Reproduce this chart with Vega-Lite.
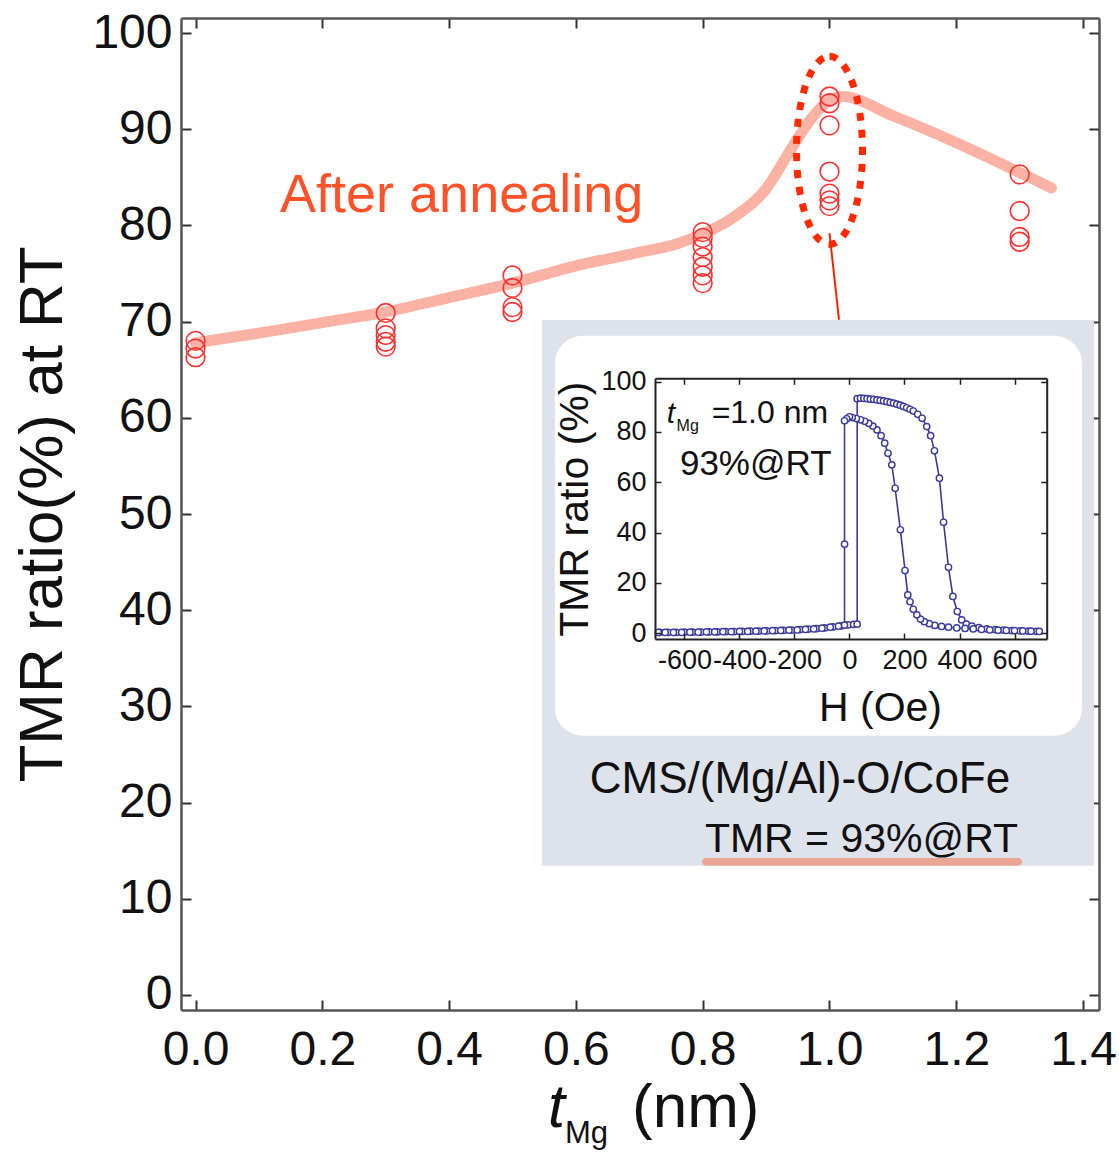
{
  "$schema": "https://vega.github.io/schema/vega-lite/v6.json",
  "width": 918,
  "height": 992,
  "autosize": {"type": "none"},
  "padding": {"left": 181, "top": 18, "right": 20, "bottom": 142},
  "background": "white",
  "config": {
    "font": "Liberation Sans",
    "view": {"stroke": null},
    "axis": {"grid": false, "labelFont": "Liberation Sans", "titleFont": "Liberation Sans", "titleFontWeight": "normal"}
  },
  "resolve": {"scale": {"x": "independent", "y": "independent"}, "axis": {"x": "independent", "y": "independent"}},
  "layer": [
    {
      "resolve": {"axis": {"x": "independent", "y": "independent"}},
      "layer": [
        {
          "data": {"values": [
            {"x": 0, "y": 67.8}, {"x": 0.1, "y": 68.8}, {"x": 0.2, "y": 69.9}, {"x": 0.3, "y": 71.0},
            {"x": 0.4, "y": 72.5}, {"x": 0.5, "y": 74.0}, {"x": 0.6, "y": 75.8}, {"x": 0.7, "y": 77.2},
            {"x": 0.76, "y": 78.1}, {"x": 0.8, "y": 79.1}, {"x": 0.85, "y": 80.9}, {"x": 0.9, "y": 83.8},
            {"x": 0.94, "y": 88.0}, {"x": 0.97, "y": 91.0}, {"x": 1.0, "y": 93.0}, {"x": 1.02, "y": 93.4},
            {"x": 1.1, "y": 91.4}, {"x": 1.2, "y": 88.6}, {"x": 1.3, "y": 85.5}, {"x": 1.35, "y": 83.9}
          ]},
          "mark": {"type": "line", "interpolate": "monotone", "color": "#f9b2a3", "strokeWidth": 11, "strokeCap": "round"},
          "encoding": {
            "x": {"field": "x", "type": "quantitative", "scale": {"domain": [-0.0229, 1.4251], "nice": false, "zero": false},
              "axis": {"orient": "bottom", "values": [0, 0.2, 0.4, 0.6, 0.8, 1.0, 1.2, 1.4], "format": ".1f", "title": null,
                "tickSize": -10, "tickWidth": 2, "tickColor": "#333", "domainColor": "#555", "domainWidth": 2.5,
                "labelFontSize": 48, "labelColor": "#111", "labelPadding": 26, "labelFlush": false, "labelOverlap": false, "labelBound": false}},
            "y": {"field": "y", "type": "quantitative", "scale": {"domain": [-1.56, 101.56], "nice": false, "zero": false},
              "axis": {"orient": "left", "values": [0, 10, 20, 30, 40, 50, 60, 70, 80, 90, 100], "title": "TMR ratio(%) at RT",
                "titleFontSize": 62, "titleColor": "#111", "titlePadding": 17,
                "tickSize": -10, "tickWidth": 2, "tickColor": "#333", "domainColor": "#555", "domainWidth": 2.5,
                "labelFontSize": 48, "labelColor": "#111", "labelPadding": 19, "labelFlush": false, "labelOverlap": false, "labelBound": false}}
          }
        },
        {
          "data": {"values": [
            {"x": 0, "y": 68.0}, {"x": 0, "y": 67.2}, {"x": 0, "y": 66.3},
            {"x": 0.3, "y": 70.9}, {"x": 0.3, "y": 69.3}, {"x": 0.3, "y": 68.6}, {"x": 0.3, "y": 67.9}, {"x": 0.3, "y": 67.4},
            {"x": 0.5, "y": 74.8}, {"x": 0.5, "y": 73.5}, {"x": 0.5, "y": 71.5}, {"x": 0.5, "y": 71.0},
            {"x": 0.8, "y": 79.3}, {"x": 0.8, "y": 78.7}, {"x": 0.8, "y": 77.8}, {"x": 0.8, "y": 76.7}, {"x": 0.8, "y": 75.7}, {"x": 0.8, "y": 74.8}, {"x": 0.8, "y": 74.0},
            {"x": 1.0, "y": 93.4}, {"x": 1.0, "y": 92.7}, {"x": 1.0, "y": 90.4}, {"x": 1.0, "y": 85.6}, {"x": 1.0, "y": 83.3}, {"x": 1.0, "y": 82.6}, {"x": 1.0, "y": 82.0},
            {"x": 1.3, "y": 85.3}, {"x": 1.3, "y": 81.5}, {"x": 1.3, "y": 78.8}, {"x": 1.3, "y": 78.3}
          ]},
          "mark": {"type": "point", "shape": "circle", "filled": false, "color": "#ff3030", "strokeWidth": 1.6, "size": 350, "opacity": 1},
          "encoding": {
            "x": {"field": "x", "type": "quantitative", "scale": {"domain": [-0.0229, 1.4251], "nice": false, "zero": false},
              "axis": {"orient": "top", "values": [0, 0.2, 0.4, 0.6, 0.8, 1.0, 1.2, 1.4], "labels": false, "title": null,
                "tickSize": -10, "tickWidth": 2, "tickColor": "#333", "domainColor": "#555", "domainWidth": 2.5}},
            "y": {"field": "y", "type": "quantitative", "scale": {"domain": [-1.56, 101.56], "nice": false, "zero": false},
              "axis": {"orient": "right", "values": [0, 10, 20, 30, 40, 50, 60, 70, 80, 90, 100], "labels": false, "title": null,
                "tickSize": -10, "tickWidth": 2, "tickColor": "#333", "domainColor": "#555", "domainWidth": 2.5}}
          }
        },
        {
          "data": {"values": [{"x": 1.0, "y": 87.8}]},
          "mark": {"type": "point", "shape": "M0,-1A0.351,1 0 1,1 0,1A0.351,1 0 1,1 0,-1Z", "filled": false, "color": "#ff2a00", "strokeWidth": 7, "strokeDash": [8, 9], "size": 35344, "opacity": 1},
          "encoding": {
            "x": {"field": "x", "type": "quantitative", "scale": {"domain": [-0.0229, 1.4251], "nice": false, "zero": false}, "axis": null},
            "y": {"field": "y", "type": "quantitative", "scale": {"domain": [-1.56, 101.56], "nice": false, "zero": false}, "axis": null}
          }
        },
        {
          "data": {"values": [{"x": 1.0, "y": 79.2, "x2": 1.015, "y2": 70.2}]},
          "mark": {"type": "rule", "color": "#ff2200", "strokeWidth": 2},
          "encoding": {
            "x": {"field": "x", "type": "quantitative", "scale": {"domain": [-0.0229, 1.4251], "nice": false, "zero": false}, "axis": null},
            "y": {"field": "y", "type": "quantitative", "scale": {"domain": [-1.56, 101.56], "nice": false, "zero": false}, "axis": null},
            "x2": {"field": "x2"},
            "y2": {"field": "y2"}
          }
        },
        {
          "data": {"values": [
            {"label": "After annealing", "x": 0.1333, "y": 81.4}
          ]},
          "mark": {"type": "text", "align": "left", "baseline": "alphabetic", "fontSize": 54, "color": "#ff5228", "font": "Liberation Sans"},
          "encoding": {
            "x": {"field": "x", "type": "quantitative", "scale": {"domain": [-0.0229, 1.4251], "nice": false, "zero": false}, "axis": null},
            "y": {"field": "y", "type": "quantitative", "scale": {"domain": [-1.56, 101.56], "nice": false, "zero": false}, "axis": null},
            "text": {"field": "label"}
          }
        },
        {
          "data": {"values": [
            {"label": "t", "x": 0.556, "y": -13.7}
          ]},
          "mark": {"type": "text", "align": "left", "baseline": "alphabetic", "fontSize": 61, "fontStyle": "italic", "color": "#111", "font": "Liberation Sans"},
          "encoding": {
            "x": {"field": "x", "type": "quantitative", "scale": {"domain": [-0.0229, 1.4251], "nice": false, "zero": false}, "axis": null},
            "y": {"field": "y", "type": "quantitative", "scale": {"domain": [-1.56, 101.56], "nice": false, "zero": false}, "axis": null},
            "text": {"field": "label"}
          }
        },
        {
          "data": {"values": [
            {"label": "Mg", "x": 0.5828, "y": -15.4}
          ]},
          "mark": {"type": "text", "align": "left", "baseline": "alphabetic", "fontSize": 31, "color": "#111", "font": "Liberation Sans"},
          "encoding": {
            "x": {"field": "x", "type": "quantitative", "scale": {"domain": [-0.0229, 1.4251], "nice": false, "zero": false}, "axis": null},
            "y": {"field": "y", "type": "quantitative", "scale": {"domain": [-1.56, 101.56], "nice": false, "zero": false}, "axis": null},
            "text": {"field": "label"}
          }
        },
        {
          "data": {"values": [
            {"label": "(nm)", "x": 0.6885, "y": -13.7}
          ]},
          "mark": {"type": "text", "align": "left", "baseline": "alphabetic", "fontSize": 62, "color": "#111", "font": "Liberation Sans"},
          "encoding": {
            "x": {"field": "x", "type": "quantitative", "scale": {"domain": [-0.0229, 1.4251], "nice": false, "zero": false}, "axis": null},
            "y": {"field": "y", "type": "quantitative", "scale": {"domain": [-1.56, 101.56], "nice": false, "zero": false}, "axis": null},
            "text": {"field": "label"}
          }
        }
      ]
    },
    {
      "resolve": {"axis": {"x": "independent", "y": "independent"}},
      "layer": [
        {
          "data": {"values": [{"x": -1118.2, "x2": 889.1, "y": 124.5, "y2": -92.4}]},
          "mark": {"type": "rect", "color": "#dee2eb"},
          "encoding": {
            "x": {"field": "x", "type": "quantitative", "scale": {"domain": [-707, 717], "range": [474, 865.7], "nice": false, "zero": false}, "axis": null},
            "x2": {"field": "x2"},
            "y": {"field": "y", "type": "quantitative", "scale": {"domain": [-2.3, 101.3], "range": [621, 360.3], "nice": false, "zero": false}, "axis": null},
            "y2": {"field": "y2"}
          }
        },
        {
          "data": {"values": [{"x": -1070.9, "x2": 845.5, "y": 118.2, "y2": -40.7}]},
          "mark": {"type": "rect", "color": "white", "cornerRadius": 28},
          "encoding": {
            "x": {"field": "x", "type": "quantitative", "scale": {"domain": [-707, 717], "range": [474, 865.7], "nice": false, "zero": false}, "axis": null},
            "x2": {"field": "x2"},
            "y": {"field": "y", "type": "quantitative", "scale": {"domain": [-2.3, 101.3], "range": [621, 360.3], "nice": false, "zero": false}, "axis": null},
            "y2": {"field": "y2"}
          }
        },
        {
          "data": {"values": [{"x": -536.4, "x2": 627.3, "y": -89.3, "y2": -92.4}]},
          "mark": {"type": "rect", "color": "#eba596", "cornerRadius": 4},
          "encoding": {
            "x": {"field": "x", "type": "quantitative", "scale": {"domain": [-707, 717], "range": [474, 865.7], "nice": false, "zero": false}, "axis": null},
            "x2": {"field": "x2"},
            "y": {"field": "y", "type": "quantitative", "scale": {"domain": [-2.3, 101.3], "range": [621, 360.3], "nice": false, "zero": false}, "axis": null},
            "y2": {"field": "y2"}
          }
        },
        {
          "data": {"name": "loop", "values": [
            {"b": "u", "i": 0, "H": -690, "T": 0.3}, {"b": "u", "i": 1, "H": -660, "T": 0.3}, {"b": "u", "i": 2, "H": -630, "T": 0.3},
            {"b": "u", "i": 3, "H": -600, "T": 0.4}, {"b": "u", "i": 4, "H": -570, "T": 0.4}, {"b": "u", "i": 5, "H": -540, "T": 0.4},
            {"b": "u", "i": 6, "H": -510, "T": 0.5}, {"b": "u", "i": 7, "H": -480, "T": 0.5}, {"b": "u", "i": 8, "H": -450, "T": 0.6},
            {"b": "u", "i": 9, "H": -420, "T": 0.6}, {"b": "u", "i": 10, "H": -390, "T": 0.7}, {"b": "u", "i": 11, "H": -360, "T": 0.8},
            {"b": "u", "i": 12, "H": -330, "T": 0.8}, {"b": "u", "i": 13, "H": -300, "T": 0.9}, {"b": "u", "i": 14, "H": -270, "T": 1.0},
            {"b": "u", "i": 15, "H": -240, "T": 1.1}, {"b": "u", "i": 16, "H": -210, "T": 1.2}, {"b": "u", "i": 17, "H": -180, "T": 1.4},
            {"b": "u", "i": 18, "H": -150, "T": 1.6}, {"b": "u", "i": 19, "H": -120, "T": 1.8}, {"b": "u", "i": 20, "H": -90, "T": 2.1},
            {"b": "u", "i": 21, "H": -60, "T": 2.5}, {"b": "u", "i": 22, "H": -30, "T": 2.9}, {"b": "u", "i": 23, "H": -5, "T": 3.3},
            {"b": "u", "i": 24, "H": 15, "T": 3.5}, {"b": "u", "i": 25, "H": 28, "T": 3.6}, {"b": "u", "i": 26, "H": 28, "T": 93.2},
            {"b": "u", "i": 27, "H": 40, "T": 93.4}, {"b": "u", "i": 28, "H": 52, "T": 93.3}, {"b": "u", "i": 29, "H": 64, "T": 93.2},
            {"b": "u", "i": 30, "H": 76, "T": 93.0}, {"b": "u", "i": 31, "H": 88, "T": 92.9}, {"b": "u", "i": 32, "H": 100, "T": 92.7},
            {"b": "u", "i": 33, "H": 112, "T": 92.5}, {"b": "u", "i": 34, "H": 124, "T": 92.3}, {"b": "u", "i": 35, "H": 136, "T": 92.0},
            {"b": "u", "i": 36, "H": 148, "T": 91.7}, {"b": "u", "i": 37, "H": 160, "T": 91.4}, {"b": "u", "i": 38, "H": 172, "T": 91.0},
            {"b": "u", "i": 39, "H": 184, "T": 90.6}, {"b": "u", "i": 40, "H": 196, "T": 90.1}, {"b": "u", "i": 41, "H": 208, "T": 89.6},
            {"b": "u", "i": 42, "H": 220, "T": 89.0}, {"b": "u", "i": 43, "H": 232, "T": 88.3}, {"b": "u", "i": 44, "H": 248, "T": 87.0},
            {"b": "u", "i": 45, "H": 264, "T": 85.4}, {"b": "u", "i": 46, "H": 281, "T": 82.1}, {"b": "u", "i": 47, "H": 295, "T": 78.5},
            {"b": "u", "i": 48, "H": 309, "T": 72.5}, {"b": "u", "i": 49, "H": 327, "T": 61.6}, {"b": "u", "i": 50, "H": 342, "T": 44.1},
            {"b": "u", "i": 51, "H": 360, "T": 26.2}, {"b": "u", "i": 52, "H": 376, "T": 14.6}, {"b": "u", "i": 53, "H": 392, "T": 8.6},
            {"b": "u", "i": 54, "H": 408, "T": 5.3}, {"b": "u", "i": 55, "H": 425, "T": 3.6}, {"b": "u", "i": 56, "H": 445, "T": 2.8},
            {"b": "u", "i": 57, "H": 470, "T": 2.2}, {"b": "u", "i": 58, "H": 500, "T": 1.7}, {"b": "u", "i": 59, "H": 530, "T": 1.4},
            {"b": "u", "i": 60, "H": 560, "T": 1.2}, {"b": "u", "i": 61, "H": 590, "T": 1.0}, {"b": "u", "i": 62, "H": 620, "T": 0.9},
            {"b": "u", "i": 63, "H": 650, "T": 0.8}, {"b": "u", "i": 64, "H": 680, "T": 0.7},
            {"b": "d", "i": 0, "H": 690, "T": 0.7}, {"b": "d", "i": 1, "H": 660, "T": 0.8}, {"b": "d", "i": 2, "H": 630, "T": 0.9},
            {"b": "d", "i": 3, "H": 600, "T": 1.0}, {"b": "d", "i": 4, "H": 570, "T": 1.1}, {"b": "d", "i": 5, "H": 540, "T": 1.2},
            {"b": "d", "i": 6, "H": 510, "T": 1.3}, {"b": "d", "i": 7, "H": 480, "T": 1.5}, {"b": "d", "i": 8, "H": 450, "T": 1.7},
            {"b": "d", "i": 9, "H": 420, "T": 1.9}, {"b": "d", "i": 10, "H": 390, "T": 2.1}, {"b": "d", "i": 11, "H": 360, "T": 2.4},
            {"b": "d", "i": 12, "H": 335, "T": 2.7}, {"b": "d", "i": 13, "H": 310, "T": 3.1}, {"b": "d", "i": 14, "H": 290, "T": 3.8},
            {"b": "d", "i": 15, "H": 272, "T": 4.6}, {"b": "d", "i": 16, "H": 258, "T": 5.6}, {"b": "d", "i": 17, "H": 245, "T": 7.3},
            {"b": "d", "i": 18, "H": 232, "T": 9.5}, {"b": "d", "i": 19, "H": 220, "T": 12.5}, {"b": "d", "i": 20, "H": 212, "T": 15.2},
            {"b": "d", "i": 21, "H": 202, "T": 24.9}, {"b": "d", "i": 22, "H": 185, "T": 41.1}, {"b": "d", "i": 23, "H": 166, "T": 57.6},
            {"b": "d", "i": 24, "H": 154, "T": 66.9}, {"b": "d", "i": 25, "H": 140, "T": 71.5}, {"b": "d", "i": 26, "H": 128, "T": 75.5},
            {"b": "d", "i": 27, "H": 115, "T": 78.5}, {"b": "d", "i": 28, "H": 100, "T": 80.8}, {"b": "d", "i": 29, "H": 85, "T": 82.3},
            {"b": "d", "i": 30, "H": 70, "T": 83.4}, {"b": "d", "i": 31, "H": 55, "T": 84.2}, {"b": "d", "i": 32, "H": 40, "T": 84.8},
            {"b": "d", "i": 33, "H": 25, "T": 85.3}, {"b": "d", "i": 34, "H": 10, "T": 85.7}, {"b": "d", "i": 35, "H": 0, "T": 86.0},
            {"b": "d", "i": 36, "H": -10, "T": 85.2}, {"b": "d", "i": 37, "H": -18, "T": 84.4}, {"b": "d", "i": 38, "H": -18, "T": 35.4},
            {"b": "d", "i": 39, "H": -18, "T": 3.2}, {"b": "d", "i": 40, "H": -40, "T": 2.8}, {"b": "d", "i": 41, "H": -70, "T": 2.4},
            {"b": "d", "i": 42, "H": -100, "T": 2.0}, {"b": "d", "i": 43, "H": -130, "T": 1.7}, {"b": "d", "i": 44, "H": -160, "T": 1.5},
            {"b": "d", "i": 45, "H": -190, "T": 1.3}, {"b": "d", "i": 46, "H": -220, "T": 1.2}, {"b": "d", "i": 47, "H": -250, "T": 1.1},
            {"b": "d", "i": 48, "H": -280, "T": 1.0}, {"b": "d", "i": 49, "H": -310, "T": 0.9}, {"b": "d", "i": 50, "H": -340, "T": 0.8},
            {"b": "d", "i": 51, "H": -370, "T": 0.7}, {"b": "d", "i": 52, "H": -400, "T": 0.7}, {"b": "d", "i": 53, "H": -430, "T": 0.6},
            {"b": "d", "i": 54, "H": -460, "T": 0.6}, {"b": "d", "i": 55, "H": -490, "T": 0.5}, {"b": "d", "i": 56, "H": -520, "T": 0.5},
            {"b": "d", "i": 57, "H": -550, "T": 0.4}, {"b": "d", "i": 58, "H": -580, "T": 0.4}, {"b": "d", "i": 59, "H": -610, "T": 0.3},
            {"b": "d", "i": 60, "H": -640, "T": 0.3}, {"b": "d", "i": 61, "H": -670, "T": 0.3}, {"b": "d", "i": 62, "H": -695, "T": 0.3}
          ]},
          "mark": {"type": "line", "color": "#3c3a9a", "strokeWidth": 1.6},
          "encoding": {
            "x": {"field": "H", "type": "quantitative", "scale": {"domain": [-707, 717], "range": [474, 865.7], "nice": false, "zero": false},
              "axis": {"orient": "bottom", "offset": -371, "values": [-600, -400, -200, 0, 200, 400, 600], "labelExpr": "'' + datum.value", "title": "H (Oe)",
                "titleFontSize": 41, "titleColor": "#111", "titleX": 699, "titleY": 81, "titleBaseline": "alphabetic", "titleAlign": "center",
                "tickSize": -6, "tickWidth": 1.5, "tickColor": "#222", "domainColor": "#222", "domainWidth": 2,
                "labelFontSize": 27, "labelColor": "#111", "labelPadding": 14, "labelFlush": false, "labelOverlap": false, "labelBound": false, "zindex": 1}},
            "y": {"field": "T", "type": "quantitative", "scale": {"domain": [-2.3, 101.3], "range": [621, 360.3], "nice": false, "zero": false},
              "axis": {"orient": "left", "offset": -474, "values": [0, 20, 40, 60, 80, 100], "title": "TMR ratio (%)",
                "titleFontSize": 41, "titleColor": "#111", "titlePadding": 4,
                "tickSize": -6, "tickWidth": 1.5, "tickColor": "#222", "domainColor": "#222", "domainWidth": 2,
                "labelFontSize": 27, "labelColor": "#111", "labelPadding": 15, "labelFlush": false, "labelOverlap": false, "labelBound": false, "zindex": 1}},
            "detail": {"field": "b"},
            "order": {"field": "i"}
          }
        },
        {
          "data": {"name": "loop"},
          "mark": {"type": "point", "shape": "circle", "filled": true, "fill": "white", "stroke": "#3c3a9a", "strokeWidth": 1.4, "size": 40, "opacity": 1},
          "encoding": {
            "x": {"field": "H", "type": "quantitative", "scale": {"domain": [-707, 717], "range": [474, 865.7], "nice": false, "zero": false},
              "axis": {"orient": "top", "offset": -360.3, "values": [-600, -400, -200, 0, 200, 400, 600], "labels": false, "title": null,
                "tickSize": -6, "tickWidth": 1.5, "tickColor": "#222", "domainColor": "#222", "domainWidth": 2, "zindex": 1}},
            "y": {"field": "T", "type": "quantitative", "scale": {"domain": [-2.3, 101.3], "range": [621, 360.3], "nice": false, "zero": false},
              "axis": {"orient": "right", "offset": -52.3, "values": [0, 20, 40, 60, 80, 100], "labels": false, "title": null,
                "tickSize": -6, "tickWidth": 1.5, "tickColor": "#222", "domainColor": "#222", "domainWidth": 2, "zindex": 1}}
          }
        },
        {
          "data": {"values": [
            {"label": "t", "H": -664.7, "T": 83.4}
          ]},
          "mark": {"type": "text", "align": "left", "baseline": "alphabetic", "fontSize": 30, "fontStyle": "italic", "color": "#111", "font": "Liberation Sans"},
          "encoding": {
            "x": {"field": "H", "type": "quantitative", "scale": {"domain": [-707, 717], "range": [474, 865.7], "nice": false, "zero": false}, "axis": null},
            "y": {"field": "T", "type": "quantitative", "scale": {"domain": [-2.3, 101.3], "range": [621, 360.3], "nice": false, "zero": false}, "axis": null},
            "text": {"field": "label"}
          }
        },
        {
          "data": {"values": [
            {"label": "Mg", "H": -628.4, "T": 80.5}
          ]},
          "mark": {"type": "text", "align": "left", "baseline": "alphabetic", "fontSize": 16, "color": "#111", "font": "Liberation Sans"},
          "encoding": {
            "x": {"field": "H", "type": "quantitative", "scale": {"domain": [-707, 717], "range": [474, 865.7], "nice": false, "zero": false}, "axis": null},
            "y": {"field": "T", "type": "quantitative", "scale": {"domain": [-2.3, 101.3], "range": [621, 360.3], "nice": false, "zero": false}, "axis": null},
            "text": {"field": "label"}
          }
        },
        {
          "data": {"values": [
            {"label": "=1.0 nm", "H": -501.1, "T": 83.4}
          ]},
          "mark": {"type": "text", "align": "left", "baseline": "alphabetic", "fontSize": 32, "color": "#111", "font": "Liberation Sans"},
          "encoding": {
            "x": {"field": "H", "type": "quantitative", "scale": {"domain": [-707, 717], "range": [474, 865.7], "nice": false, "zero": false}, "axis": null},
            "y": {"field": "T", "type": "quantitative", "scale": {"domain": [-2.3, 101.3], "range": [621, 360.3], "nice": false, "zero": false}, "axis": null},
            "text": {"field": "label"}
          }
        },
        {
          "data": {"values": [
            {"label": "93%@RT", "H": -616.4, "T": 62.9}
          ]},
          "mark": {"type": "text", "align": "left", "baseline": "alphabetic", "fontSize": 35, "color": "#111", "font": "Liberation Sans"},
          "encoding": {
            "x": {"field": "H", "type": "quantitative", "scale": {"domain": [-707, 717], "range": [474, 865.7], "nice": false, "zero": false}, "axis": null},
            "y": {"field": "T", "type": "quantitative", "scale": {"domain": [-2.3, 101.3], "range": [621, 360.3], "nice": false, "zero": false}, "axis": null},
            "text": {"field": "label"}
          }
        },
        {
          "data": {"values": [
            {"label": "CMS/(Mg/Al)-O/CoFe", "H": -180, "T": -63.4}
          ]},
          "mark": {"type": "text", "align": "center", "baseline": "alphabetic", "fontSize": 44, "color": "#111", "font": "Liberation Sans"},
          "encoding": {
            "x": {"field": "H", "type": "quantitative", "scale": {"domain": [-707, 717], "range": [474, 865.7], "nice": false, "zero": false}, "axis": null},
            "y": {"field": "T", "type": "quantitative", "scale": {"domain": [-2.3, 101.3], "range": [621, 360.3], "nice": false, "zero": false}, "axis": null},
            "text": {"field": "label"}
          }
        },
        {
          "data": {"values": [
            {"label": "TMR = 93%@RT", "H": -525.5, "T": -86.9}
          ]},
          "mark": {"type": "text", "align": "left", "baseline": "alphabetic", "fontSize": 41, "color": "#111", "font": "Liberation Sans"},
          "encoding": {
            "x": {"field": "H", "type": "quantitative", "scale": {"domain": [-707, 717], "range": [474, 865.7], "nice": false, "zero": false}, "axis": null},
            "y": {"field": "T", "type": "quantitative", "scale": {"domain": [-2.3, 101.3], "range": [621, 360.3], "nice": false, "zero": false}, "axis": null},
            "text": {"field": "label"}
          }
        }
      ]
    }
  ]
}
